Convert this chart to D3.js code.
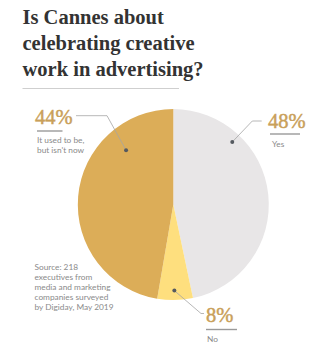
<!DOCTYPE html>
<html><head><meta charset="utf-8">
<script src="https://cdn.jsdelivr.net/npm/d3@7"></script>
<style>
html,body{margin:0;padding:0;background:#fff;}
svg{display:block;}
</style></head>
<body><svg id="c" width="327" height="355"></svg>
<script>
// ---- data ----
const titleLines = ["Is Cannes about", "celebrating creative", "work in advertising?"];
const categories = ["Yes", "No", "It used to be, but isn't now"];
const sliceValues = [46.7, 6.0, 47.3];           // slice sizes as drawn
const percentLabels = ["48%", "8%", "44%"];       // printed labels
const subLabels = [["Yes"], ["No"], ["It used to be,", "but isn't now"]];
const sourceLines = ["Source: 218", "executives from", "media and marketing", "companies surveyed", "by Digiday, May 2019"];
const colors = ["#e8e6e7", "#fedf7e", "#dcad58"];

const svg = d3.select("#c");
const cx = 173.3, cy = 204.6, R = 95.5;

// title
const title = svg.append("g");
titleLines.forEach((t, i) => {
  title.append("text").attr("x", 22.5).attr("y", 23.5 + i * 26)
    .attr("font-family", "Liberation Serif").attr("font-weight", "bold")
    .attr("font-size", 20.5).attr("fill", "#333").text(t);
});
svg.append("line").attr("x1", 22.5).attr("x2", 179).attr("y1", 88.5).attr("y2", 88.5)
  .attr("stroke", "#cfcfcf").attr("stroke-width", 1);

// pie
const pie = d3.pie().sort(null).value(d => d)(sliceValues);
const arc = d3.arc().innerRadius(0).outerRadius(R);
const g = svg.append("g").attr("transform", `translate(${cx},${cy})`);
g.selectAll("path").data(pie).join("path")
  .attr("d", arc).attr("fill", (d, i) => colors[i]);

// label layout (positions only)
const layout = [
  { dotA: 43.3, dotR: 86, elbow: [252.3, 121], end: [261.7, 121], tx: 268, ty: 127.5, ul: [270, 300, 134], sub: [272, 147] },
  { dotA: 179.3, dotR: 86, elbow: [201, 313.5], end: [204, 313.5], tx: 206, ty: 322, ul: [206, 237, 329.5], sub: [207, 342] },
  { dotA: 319, dotR: 72, elbow: [107, 115.7], end: [76, 115.7], tx: 35, ty: 123.5, ul: [37, 62.5, 131], sub: [37, 143] }
];
const goldText = "#c9a05a";
layout.forEach((L, i) => {
  const a = L.dotA * Math.PI / 180;
  const dx = cx + L.dotR * Math.sin(a), dy = cy - L.dotR * Math.cos(a);
  svg.append("path")
    .attr("d", d3.line()([[dx, dy], L.elbow, L.end]))
    .attr("fill", "none").attr("stroke", "#a5a5a5").attr("stroke-width", 0.8);
  svg.append("circle").attr("cx", dx).attr("cy", dy).attr("r", 2).attr("fill", "#555a60");
  svg.append("text").attr("x", L.tx).attr("y", L.ty)
    .attr("font-family", "Liberation Serif").attr("font-size", 20.5)
    .attr("fill", goldText).attr("stroke", goldText).attr("stroke-width", 0.45)
    .text(percentLabels[i]);
  svg.append("line").attr("x1", L.ul[0]).attr("x2", L.ul[1]).attr("y1", L.ul[2]).attr("y2", L.ul[2])
    .attr("stroke", "#9a9a9a").attr("stroke-width", 1.4);
  subLabels[i].forEach((s, j) => {
    svg.append("text").attr("x", L.sub[0]).attr("y", L.sub[1] + j * 10)
      .attr("font-family", "Lato").attr("font-size", 8.3).attr("fill", "#8a8a8a").text(s);
  });
});

// source
sourceLines.forEach((s, i) => {
  svg.append("text").attr("x", 34.5).attr("y", 270 + i * 10.1)
    .attr("font-family", "Lato").attr("font-size", 8.3).attr("fill", "#8a8a8a").text(s);
});
</script></body></html>
